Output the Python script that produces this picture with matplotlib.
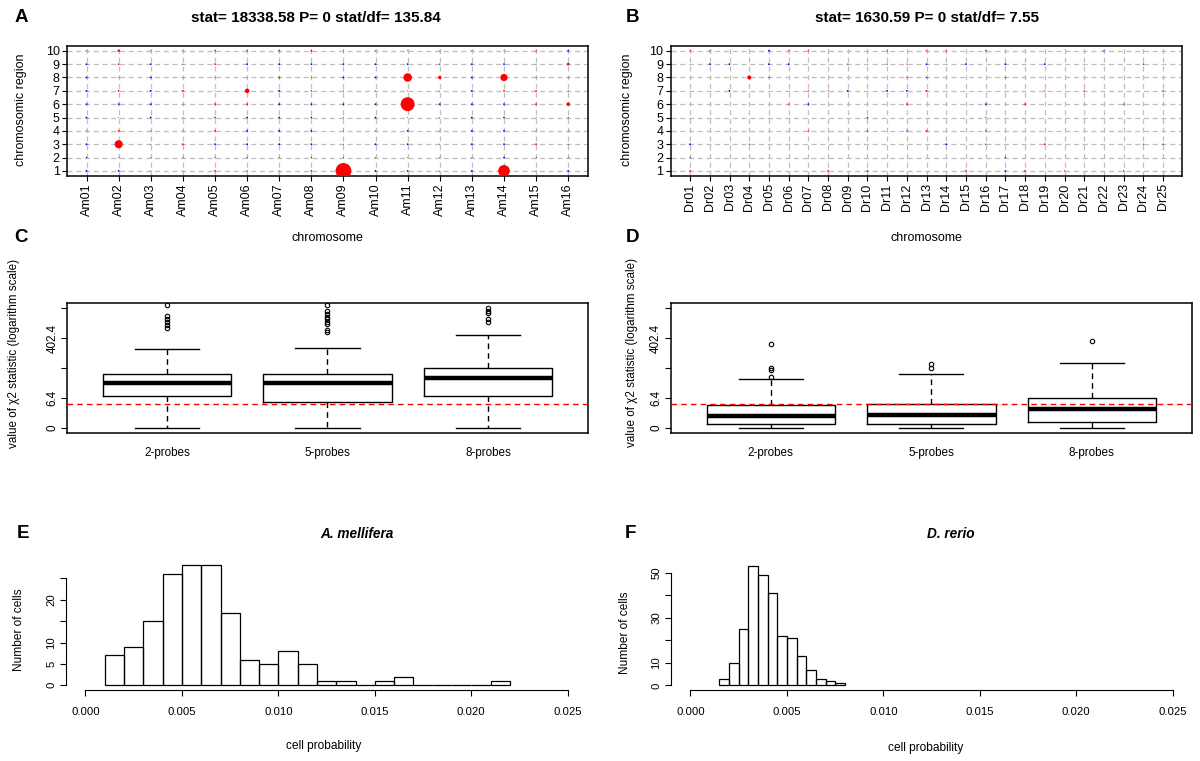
import numpy as np
import matplotlib
matplotlib.use('Agg')
import matplotlib.pyplot as plt

plt.rcParams['font.family'] = ['Liberation Sans', 'DejaVu Sans']

W, H = 1200, 761

# --- A / B : residuals per cell (rows = chromosomic region 1..10) ---
am_chrom = ['Am01', 'Am02', 'Am03', 'Am04', 'Am05', 'Am06', 'Am07', 'Am08',
            'Am09', 'Am10', 'Am11', 'Am12', 'Am13', 'Am14', 'Am15', 'Am16']
dr_chrom = ['Dr01', 'Dr02', 'Dr03', 'Dr04', 'Dr05', 'Dr06', 'Dr07', 'Dr08', 'Dr09',
            'Dr10', 'Dr11', 'Dr12', 'Dr13', 'Dr14', 'Dr15', 'Dr16', 'Dr17', 'Dr18',
            'Dr19', 'Dr20', 'Dr21', 'Dr22', 'Dr23', 'Dr24', 'Dr25']
regions = [1, 2, 3, 4, 5, 6, 7, 8, 9, 10]

am_resid = [
    [-4, -4, -2, 2, 4, 3, -2, 4, 35, -4, -4, -2, -4, 26, -2, -4],
    [-3, -2, -2, -2, -2, 3, -2, 3, -2, -2, -2, -2, -2, -4, -2, -2],
    [-4, 18, -2, 4, -4, -4, -4, -4, -2, -4, -4, -2, -4, -4, 4, -2],
    [-2, 4, -2, -2, 4, -4, -4, -4, -2, -2, -4, -2, -4, -4, -2, -2],
    [-4, -2, -4, -2, 4, -4, -4, -4, -2, -4, -2, -2, -4, -4, -2, 3],
    [-4, -4, -4, -2, 4, 4, -4, -4, -4, -4, 31, -4, -4, -4, 4, 8],
    [-4, 4, -4, 4, -2, 10, -4, -3, -2, -2, -2, -2, -4, 4, 4, -2],
    [-4, -2, -4, -2, -2, 2, 4, -2, -4, -4, 19, 7.5, -4, 16, -2, -2],
    [-4, 4, -4, -2, 4, -4, -4, -4, -4, -4, -4, -3, -4, -4, -2, 6],
    [-2, 5.5, -2, -2, -3, -3, -3, 4, -2, -2, -2, -2, -2, -2, 3, -4],
]
dr_resid = [
    [4, 0, 0, 0, 0, 0, 0, 4, 0, 4, 0, 0, 0, 0, 4, 0, -4, 4, 0, 3, 0, 0, -3, 0, 0],
    [3, 0, 0, 0, 0, 0, 0, 0, 0, 0, 0, 0, 0, 0, 0, 0, -3, 0, 0, 0, 0, 0, 0, 0, 0],
    [-4, 0, 0, 3, 0, 0, 0, 0, 0, 0, 0, 0, 0, -4, 0, -3, 0, 0, 4, 0, 0, 0, 0, 3, -3],
    [0, 0, 0, 0, 0, 0, 3, 0, 0, 3, 0, -3, 4, 0, 0, -3, 0, 0, 0, 0, 0, 0, 0, 0, 0],
    [0, 0, 0, 0, 0, 0, 0, 0, 0, -3, 0, 0, 0, 0, 0, 3, 0, 0, 0, 0, 0, 0, 0, 0, 0],
    [0, 0, 0, 0, 0, 3, -4, 0, 0, 0, 0, 4, 0, 0, 0, -4, 0, 4, 0, 0, 0, 0, -3, 0, 0],
    [0, 0, -4, 0, 0, 0, 3, 3, -4, 0, -4, -4, 4, 0, 0, 0, 0, 0, 3, 0, 3, 0, 0, 0, -3],
    [0, 0, 0, 9, 3, 0, 0, 0, 0, 0, 0, 3, -3, 0, 0, 0, 3, 0, 0, 0, 0, 0, 0, 0, 0],
    [0, -4, -4, 0, -4, -4, 0, 0, 3, 0, 3, 3, -4, 0, -4, 0, -4, 0, -4, 0, 0, 0, 0, -3, 0],
    [3, 3, 0, 0, -4, 3, 3, 0, 0, 0, 3, 0, 3, 3, 0, -3, 0, 0, 0, 0, 0, -3, 0, 0, 0],
]

# --- C / D : chi-square statistics (box summaries) ---
probes = ['2-probes', '5-probes', '8-probes']
crit = 3.84
c_lo = [0, 0, 0]
c_q1 = [7.4, 4.6, 7.4]
c_med = [19.5, 19.5, 27.8]
c_q3 = [36.3, 36.3, 52.5]
c_hi = [197, 212, 492]
c_out = [[764, 962, 1199, 1436, 1754, 3700],
         [589, 684, 1021, 1199, 1393, 1668, 1997, 2489, 3700],
         [1199, 1393, 2079, 2489, 2921]]
d_lo = [0, 0, 0]
d_q1 = [0.34, 0.31, 0.52]
d_med = [1.27, 1.39, 2.46]
d_q3 = [3.53, 4.05, 6.54]
d_hi = [25.8, 36.3, 73.4]
d_out = [[29, 47.9, 52.5, 264], [52.5, 68.4], [336]]

# --- E / F : histograms of cell probability ---
e_left = [0.001, 0.002, 0.003, 0.004, 0.005, 0.006, 0.007, 0.008, 0.009, 0.010, 0.011,
          0.012, 0.013, 0.014, 0.015, 0.016, 0.017, 0.018, 0.019, 0.020, 0.021]
e_counts = [7, 9, 15, 26, 28, 28, 17, 6, 5, 8, 5, 1, 1, 0, 1, 2, 0, 0, 0, 0, 1]
f_left = [0.0015, 0.0020, 0.0025, 0.0030, 0.0035, 0.0040, 0.0045, 0.0050, 0.0055,
          0.0060, 0.0065, 0.0070, 0.0075]
f_counts = [3, 10, 25, 53, 49, 41, 22, 21, 13, 7, 3, 2, 1]

fig = plt.figure(figsize=(12, 7.61), dpi=100)


def px_axes(l, t, r, b):
    return fig.add_axes([l / W, 1 - b / H, (r - l) / W, (b - t) / H])


def ftext(x, y, s, **kw):
    kw.setdefault('ha', 'center')
    kw.setdefault('va', 'center')
    fig.text(x / W, 1 - y / H, s, **kw)


def dot_panel(ax, resid, chrom):
    r = np.array(resid, dtype=float)
    nreg, nchr = r.shape
    for i in range(1, nchr + 1):
        ax.axvline(i, color='#BEBEBE', lw=0.9, dashes=(4, 3), zorder=1)
    for j in regions:
        ax.axhline(j, color='#BEBEBE', lw=0.9, dashes=(4, 3), zorder=1)
    xx, yy = np.meshgrid(np.arange(1, nchr + 1), regions)
    rv = r.ravel()
    keep = rv != 0
    d_pt = 0.45 * np.abs(rv) * 72 / 100
    cols = np.where(rv > 0, '#FF0000', '#0000FF')
    ax.scatter(xx.ravel()[keep], yy.ravel()[keep], s=d_pt[keep] ** 2, c=cols[keep],
               linewidths=0, zorder=3)
    pad = 0.04 * (nchr - 1)
    ax.set_xlim(1 - pad, nchr + pad)
    ax.set_ylim(0.64, 10.36)
    ax.set_xticks(range(1, nchr + 1))
    ax.set_xticklabels(chrom, rotation=90, fontsize=9)
    ax.set_yticks(regions)
    ax.set_yticklabels([str(v) for v in regions], fontsize=9)
    ax.tick_params(length=3.5, width=0.8, pad=2)
    for s in ax.spines.values():
        s.set_linewidth(1.1)


def box_panel(ax, lo, q1, med, q3, hi, out):
    stats = []
    for k in range(3):
        stats.append(dict(whislo=np.log1p(lo[k]), q1=np.log1p(q1[k]), med=np.log1p(med[k]),
                          q3=np.log1p(q3[k]), whishi=np.log1p(hi[k]),
                          fliers=np.log1p(np.array(out[k])), label=probes[k]))
    ax.bxp(stats, positions=[1, 2, 3], widths=0.8, capwidths=0.4,
           boxprops=dict(lw=1, color='black'),
           whiskerprops=dict(lw=1, color='black', linestyle=(0, (4, 3))),
           capprops=dict(lw=1, color='black'),
           medianprops=dict(lw=3.2, color='black', solid_capstyle='butt'),
           flierprops=dict(marker='o', mfc='none', mec='black', ms=3.2, mew=0.8))
    ax.axhline(np.log1p(crit), color='#FF0000', lw=1, dashes=(4, 3), zorder=5)
    ax.set_xlim(0.38, 3.62)
    ax.set_ylim(-0.32, 8.32)
    ax.set_xticks([1, 2, 3])
    ax.set_xticklabels(probes, fontsize=8.4)
    ax.tick_params(axis='x', length=0, pad=10)
    ax.set_yticks([0, 2, 4, 6, 8])
    ax.set_yticklabels(['0', '6.4', '', '402.4', ''], rotation=90, va='center', fontsize=8.4)
    ax.tick_params(axis='y', length=4, width=0.8, pad=2.5)
    for s in ax.spines.values():
        s.set_linewidth(1.1)


def hist_panel(ax, left, counts, width, ymax, yticks, ylabels):
    ax.bar(left, counts, width=width, align='edge', fill=False, edgecolor='black', lw=0.9)
    ax.set_xlim(-0.001, 0.026)
    ax.set_ylim(-0.04 * ymax, 1.04 * ymax)
    for s in ['top', 'right']:
        ax.spines[s].set_visible(False)
    ax.spines['left'].set_bounds(yticks[0], yticks[-1])
    ax.spines['bottom'].set_bounds(0, 0.025)
    ax.set_xticks([0, 0.005, 0.010, 0.015, 0.020, 0.025])
    ax.set_xticklabels(['0.000', '0.005', '0.010', '0.015', '0.020', '0.025'], fontsize=8.2)
    ax.set_yticks(yticks)
    ax.set_yticklabels(ylabels, rotation=90, va='center', fontsize=8.2)
    ax.tick_params(length=4, width=0.8, pad=3)
    ax.tick_params(axis='x', pad=8)


# panel A
axA = px_axes(67.3, 46, 587.5, 175.7)
dot_panel(axA, am_resid, am_chrom)
# panel B
axB = px_axes(671.2, 46, 1182, 175.7)
dot_panel(axB, dr_resid, dr_chrom)
# panel C
axC = px_axes(67.3, 303.3, 587.5, 432.7)
box_panel(axC, c_lo, c_q1, c_med, c_q3, c_hi, c_out)
# panel D
axD = px_axes(671.2, 303.3, 1191.5, 432.7)
box_panel(axD, d_lo, d_q1, d_med, d_q3, d_hi, d_out)
# panel E
axE = px_axes(66.2, 560.7, 587, 690.1)
hist_panel(axE, e_left, e_counts, 0.001, 28, [0, 5, 10, 15, 20, 25], ['0', '5', '10', '', '20', ''])
# panel F
axF = px_axes(671.2, 561.3, 1192, 690.1)
hist_panel(axF, f_left, f_counts, 0.0005, 53, [0, 10, 20, 30, 40, 50], ['0', '10', '', '30', '', '50'])

# panel letters
for lab, x, y in [('A', 21, 18), ('B', 632.7, 18), ('C', 21, 238), ('D', 632.7, 237),
                  ('E', 23, 533), ('F', 630.8, 533)]:
    ftext(x, y, lab, fontsize=13.5, fontweight='bold')

# titles
ftext(316, 18, 'stat= 18338.58 P= 0 stat/df= 135.84', fontsize=11, fontweight='bold')
ftext(927, 18, 'stat= 1630.59 P= 0 stat/df= 7.55', fontsize=11, fontweight='bold')
ftext(357, 534, 'A. mellifera', fontsize=9.8, fontweight='bold', style='italic')
ftext(951, 534, 'D. rerio', fontsize=9.8, fontweight='bold', style='italic')

# axis labels
ftext(327, 238, 'chromosome', fontsize=9)
ftext(926, 238, 'chromosome', fontsize=9)
ftext(21, 110, 'chromosomic region', fontsize=9, rotation=90)
ftext(627, 110, 'chromosomic region', fontsize=9, rotation=90)
ftext(14, 354, 'value of \u03c72 statistic (logarithm scale)', fontsize=8.4, rotation=90)
ftext(631.7, 352, 'value of \u03c72 statistic (logarithm scale)', fontsize=8.4, rotation=90)
ftext(19, 630, 'Number of cells', fontsize=8.6, rotation=90)
ftext(625, 633, 'Number of cells', fontsize=8.6, rotation=90)
ftext(324, 746, 'cell probability', fontsize=8.6)
ftext(926, 748, 'cell probability', fontsize=8.6)

fig.savefig('out.png', dpi=100)
